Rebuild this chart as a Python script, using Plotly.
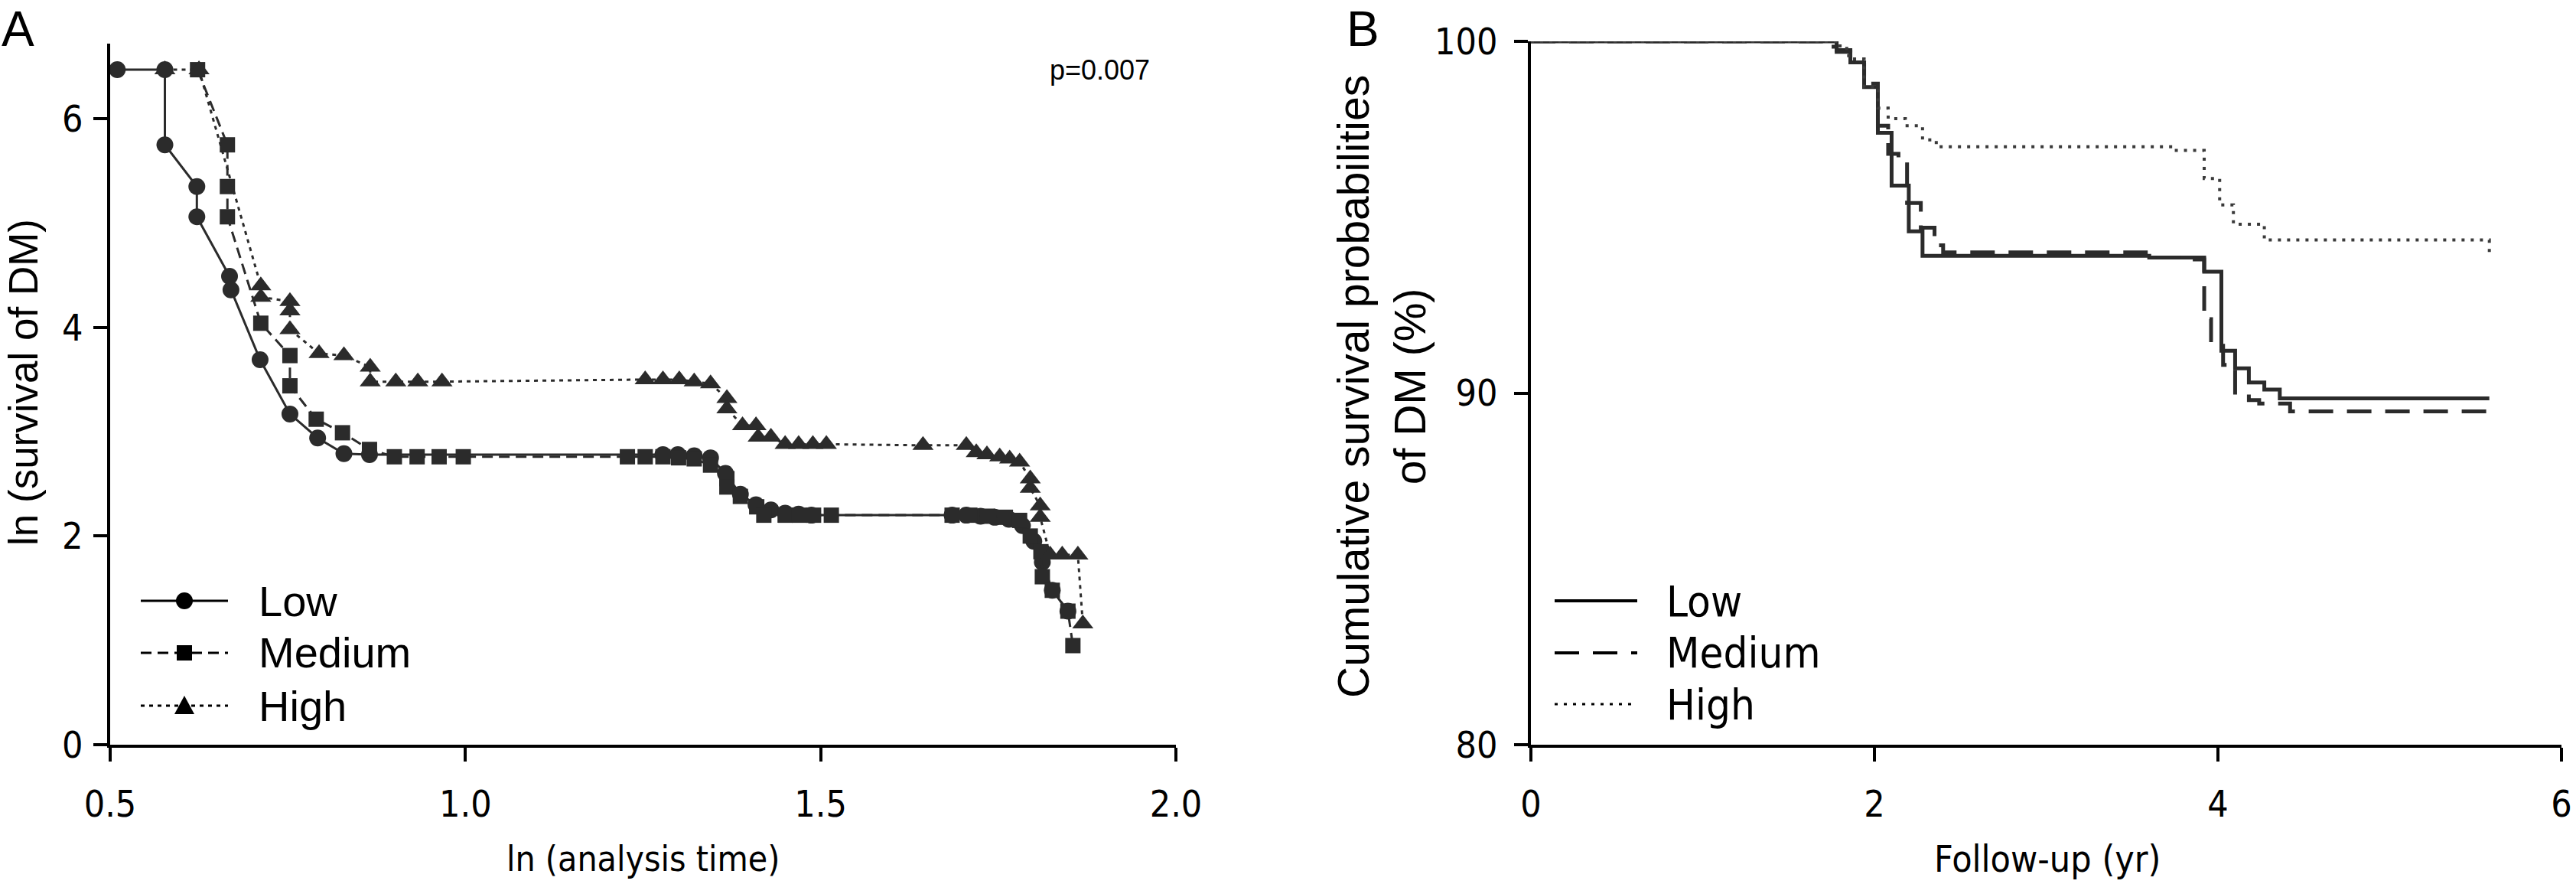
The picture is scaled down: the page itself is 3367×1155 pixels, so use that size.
import plotly.graph_objects as go

W, H = 3367, 1155

# ---------------- Panel A data: ln(survival) vs ln(analysis time) ----------------
a_low_x = [0.510, 0.577, 0.577, 0.622, 0.622, 0.668, 0.670, 0.711, 0.753, 0.792, 0.829, 0.865,
           1.278, 1.299, 1.322, 1.345, 1.366, 1.387, 1.409, 1.430, 1.450, 1.469, 1.487,
           1.685, 1.705, 1.725, 1.745, 1.765, 1.784, 1.800, 1.812, 1.826, 1.848]
a_low_y = [6.47, 6.47, 5.75, 5.35, 5.06, 4.49, 4.36, 3.69, 3.17, 2.94, 2.79, 2.78,
           2.78, 2.78, 2.77, 2.75, 2.60, 2.40, 2.30, 2.25, 2.22, 2.21, 2.20,
           2.20, 2.20, 2.19, 2.18, 2.16, 2.10, 1.95, 1.75, 1.48, 1.28]

a_med_x = [0.623, 0.665, 0.665, 0.665, 0.712, 0.753, 0.753, 0.790, 0.827, 0.865, 0.900, 0.932,
           0.963, 0.997, 1.228, 1.253, 1.278, 1.300, 1.322, 1.345, 1.368, 1.368, 1.387, 1.410,
           1.420, 1.450, 1.470, 1.490, 1.515, 1.685, 1.710, 1.735, 1.760, 1.780, 1.795, 1.810,
           1.812, 1.826, 1.848, 1.855]
a_med_y = [6.47, 5.75, 5.35, 5.06, 4.04, 3.73, 3.44, 3.12, 2.99, 2.83, 2.76, 2.76,
           2.76, 2.76, 2.76, 2.76, 2.76, 2.75, 2.74, 2.68, 2.55, 2.47, 2.38, 2.28,
           2.20, 2.20, 2.20, 2.20, 2.20, 2.20, 2.20, 2.19, 2.18, 2.15, 2.00, 1.85,
           1.61, 1.48, 1.28, 0.95]

a_high_x = [0.577, 0.625, 0.712, 0.712, 0.753, 0.753, 0.753, 0.794, 0.829, 0.866, 0.866, 0.902,
            0.933, 0.967, 1.253, 1.278, 1.301, 1.322, 1.345, 1.368, 1.368, 1.390, 1.409, 1.412,
            1.430, 1.450, 1.469, 1.489, 1.508, 1.644, 1.705, 1.719, 1.734, 1.752, 1.766, 1.780,
            1.795, 1.795, 1.809, 1.809, 1.823, 1.840, 1.862, 1.869]
a_high_y = [6.47, 6.47, 4.40, 4.29, 4.25, 4.16, 3.98, 3.75, 3.73, 3.62, 3.48, 3.48,
            3.48, 3.48, 3.50, 3.50, 3.50, 3.48, 3.46, 3.32, 3.22, 3.06, 3.06, 2.95,
            2.95, 2.88, 2.88, 2.88, 2.88, 2.87, 2.87, 2.80, 2.78, 2.76, 2.74, 2.71,
            2.55, 2.46, 2.29, 2.18, 1.82, 1.82, 1.82, 1.16]

a_xticks = [0.5, 1.0, 1.5, 2.0]
a_xticklabels = ["0.5", "1.0", "1.5", "2.0"]
a_yticks = [0, 2, 4, 6]

# ---------------- Panel B data: cumulative survival (%) vs follow-up (yr) ----------------
b_low_t = [0, 1.78, 1.86, 1.94, 2.02, 2.10, 2.20, 2.28, 3.60, 3.92, 4.02, 4.10, 4.18, 4.27, 4.36, 5.58]
b_low_s = [100, 99.75, 99.4, 98.7, 97.4, 95.9, 94.6, 93.9, 93.85, 93.45, 91.2, 90.7, 90.3, 90.1, 89.85, 89.85]

b_med_t = [0, 1.70, 1.78, 1.86, 1.94, 2.02, 2.08, 2.14, 2.19, 2.27, 2.35, 2.40, 3.58, 3.84, 3.92,
           3.96, 4.03, 4.10, 4.18, 4.24, 4.42, 5.58]
b_med_s = [100, 99.85, 99.7, 99.4, 98.8, 97.6, 96.8, 96.5, 95.4, 94.7, 94.2, 94.0, 93.85, 93.8, 92.1,
           91.5, 90.8, 89.9, 89.8, 89.7, 89.48, 89.48]

b_high_t = [0, 1.80, 1.85, 1.94, 2.02, 2.08, 2.18, 2.28, 2.36, 3.74, 3.92, 4.01, 4.09, 4.27, 5.58, 5.58]
b_high_s = [100, 99.8, 99.5, 98.7, 98.1, 97.8, 97.6, 97.2, 97.0, 96.9, 96.1, 95.35, 94.8, 94.35, 94.35, 94.0]

b_xticks = [0, 2, 4, 6]
b_yticks = [80, 90, 100]

groups = ["Low", "Medium", "High"]

# ---------------- styles ----------------
INK = "#2b2b2b"
NARROW = "Liberation Sans Narrow, Arial Narrow, DejaVu Sans Condensed, sans-serif"
WIDE = "Liberation Sans, Arial, sans-serif"

a_styles = {
    "Low": dict(dash="solid", symbol="circle", size=22),
    "Medium": dict(dash="14px,8px", symbol="square", size=20),
    "High": dict(dash="5px,6px", symbol="triangle-up", size=24),
}
b_styles = {
    "Low": dict(dash="solid", width=5, color="#2b2b2b"),
    "Medium": dict(dash="32px,18px", width=5, color="#2b2b2b"),
    "High": dict(dash="4px,8px", width=4, color="#3a3a3a"),
}

fig = go.Figure()

a_data = {"Low": (a_low_x, a_low_y), "Medium": (a_med_x, a_med_y), "High": (a_high_x, a_high_y)}
for g in groups:
    xs, ys = a_data[g]
    st = a_styles[g]
    fig.add_trace(go.Scatter(
        x=xs, y=ys, mode="lines+markers", name=g, showlegend=False,
        line=dict(color=INK, width=3, dash=st["dash"]),
        marker=dict(symbol=st["symbol"], size=st["size"], color=INK, line=dict(width=0)),
        xaxis="x", yaxis="y", cliponaxis=False,
    ))

b_data = {"Low": (b_low_t, b_low_s), "Medium": (b_med_t, b_med_s), "High": (b_high_t, b_high_s)}
for g in groups:
    xs, ys = b_data[g]
    st = b_styles[g]
    fig.add_trace(go.Scatter(
        x=xs, y=ys, mode="lines", name=g, showlegend=False,
        line=dict(color=st["color"], width=st["width"], dash=st["dash"], shape="hv"),
        xaxis="x2", yaxis="y2", cliponaxis=False,
    ))


def px_x(p):
    return p / W


def px_y(p):
    return 1 - p / H


axis_common = dict(
    showline=True, linecolor="black", linewidth=4, ticks="outside", ticklen=18,
    tickwidth=4, tickcolor="black", showgrid=False, zeroline=False, automargin=False,
    tickfont=dict(family=NARROW, size=48, color="black"), fixedrange=True,
)

fig.update_layout(
    template="none",
    width=W, height=H, paper_bgcolor="white", plot_bgcolor="white",
    margin=dict(l=0, r=0, t=0, b=0, pad=0, autoexpand=False), showlegend=False,
    xaxis=dict(domain=[px_x(144), px_x(1537)], range=[0.5, 2.0], anchor="y",
               tickvals=a_xticks, ticktext=a_xticklabels, ticklabelstandoff=14, **axis_common),
    yaxis=dict(domain=[px_y(973), px_y(57)], range=[0, 6.72], anchor="x",
               tickvals=a_yticks, ticklabelstandoff=4, **axis_common),
    xaxis2=dict(domain=[px_x(2001), px_x(3348)], range=[0, 6], anchor="y2",
                tickvals=b_xticks, ticklabelstandoff=14, **axis_common),
    yaxis2=dict(domain=[px_y(973), px_y(54)], range=[80, 100], anchor="x2",
                tickvals=b_yticks, ticklabelstandoff=12, **axis_common),
)

ann = []
ann.append(dict(text="A", x=px_x(0), y=px_y(0), xref="paper", yref="paper", xanchor="left",
                yanchor="top", showarrow=False, font=dict(family=WIDE, size=64, color="black")))
ann.append(dict(text="B", x=px_x(1758), y=px_y(0), xref="paper", yref="paper", xanchor="left",
                yanchor="top", showarrow=False, font=dict(family=WIDE, size=64, color="black")))
ann.append(dict(text="p=0.007", x=px_x(1505), y=px_y(92), xref="paper", yref="paper",
                xanchor="right", yanchor="middle", showarrow=False,
                font=dict(family=WIDE, size=36, color="black")))
ann.append(dict(text="ln (survival of DM)", x=px_x(30), y=px_y(500), xref="paper", yref="paper",
                xanchor="center", yanchor="middle", textangle=-90, showarrow=False,
                font=dict(family=WIDE, size=53, color="black")))
ann.append(dict(text="ln (analysis time)", x=px_x(840), y=px_y(1122), xref="paper", yref="paper",
                xanchor="center", yanchor="middle", showarrow=False,
                font=dict(family=NARROW, size=46, color="black")))
ann.append(dict(text="Cumulative survival probabilities<br>of DM (%)", x=px_x(1806), y=px_y(505),
                xref="paper", yref="paper", xanchor="center", yanchor="middle", textangle=-90,
                showarrow=False, font=dict(family=WIDE, size=57, color="black")))
ann.append(dict(text="Follow-up (yr)", x=px_x(2676), y=px_y(1122), xref="paper", yref="paper",
                xanchor="center", yanchor="middle", showarrow=False,
                font=dict(family=NARROW, size=48, color="black")))

shapes = []
# Legend A (lines + markers)
rows_a = [785, 853, 922]
LX0, LX1, LXM, LTX = 184, 298, 241, 336
for g, ry in zip(groups, rows_a):
    st = a_styles[g]
    shapes.append(dict(type="line", xref="paper", yref="paper", x0=px_x(LX0), x1=px_x(LX1),
                       y0=px_y(ry), y1=px_y(ry), line=dict(color="black", width=3, dash=st["dash"])))
    if st["symbol"] == "circle":
        r = 11
        shapes.append(dict(type="circle", xref="paper", yref="paper", x0=px_x(LXM - r), x1=px_x(LXM + r),
                           y0=px_y(ry + r), y1=px_y(ry - r), fillcolor="black", line=dict(width=0)))
    elif st["symbol"] == "square":
        r = 10
        shapes.append(dict(type="rect", xref="paper", yref="paper", x0=px_x(LXM - r), x1=px_x(LXM + r),
                           y0=px_y(ry + r), y1=px_y(ry - r), fillcolor="black", line=dict(width=0)))
    else:
        r = 13
        path = "M {:.6f},{:.6f} L {:.6f},{:.6f} L {:.6f},{:.6f} Z".format(
            px_x(LXM - r), px_y(ry + 11), px_x(LXM + r), px_y(ry + 11), px_x(LXM), px_y(ry - 13))
        shapes.append(dict(type="path", xref="paper", yref="paper", path=path,
                           fillcolor="black", line=dict(width=0)))
    ann.append(dict(text=g, x=px_x(LTX), y=px_y(ry), xref="paper", yref="paper", xanchor="left",
                    yanchor="middle", showarrow=False, font=dict(family=WIDE, size=56, color="black")))

# Legend B (lines only)
rows_b = [785, 853, 920]
for g, ry in zip(groups, rows_b):
    st = b_styles[g]
    shapes.append(dict(type="line", xref="paper", yref="paper", x0=px_x(2032), x1=px_x(2140),
                       y0=px_y(ry), y1=px_y(ry),
                       line=dict(color="black", width=4 if g != "High" else 3, dash=st["dash"])))
    ann.append(dict(text=g, x=px_x(2176), y=px_y(ry), xref="paper", yref="paper", xanchor="left",
                    yanchor="middle", showarrow=False, font=dict(family=NARROW, size=56, color="black")))

fig.update_layout(annotations=ann, shapes=shapes)

fig.write_html(
    "out.html",
    config={"displayModeBar": False, "staticPlot": True},
    post_script="document.body.style.margin='0px';document.body.style.overflow='hidden';",
)
